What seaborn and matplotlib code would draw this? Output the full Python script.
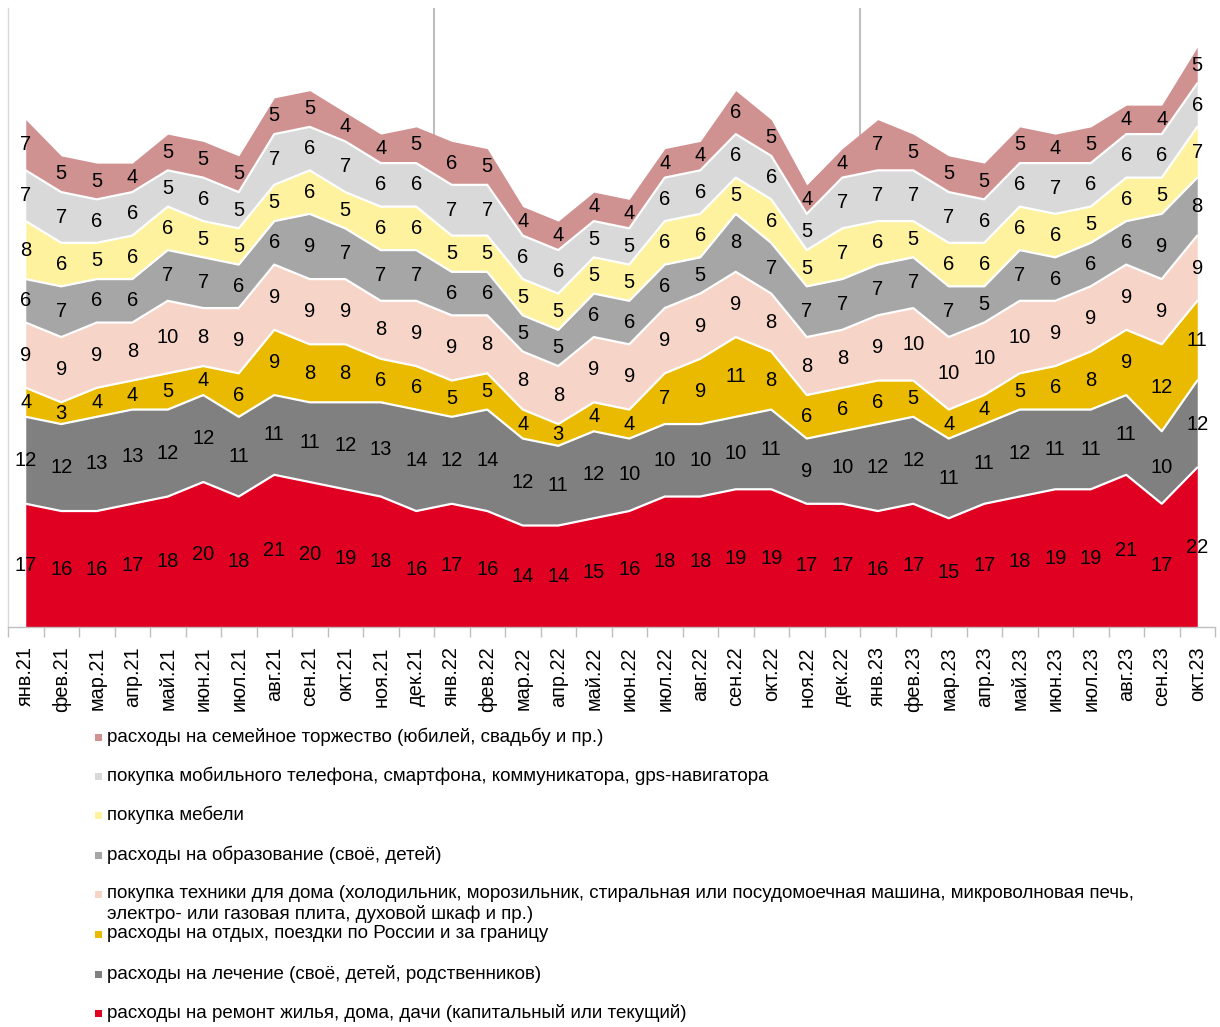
import numpy as np
import pandas as pd
import matplotlib
matplotlib.use("Agg")
import matplotlib.pyplot as plt
import seaborn as sns
from matplotlib.patches import Rectangle

months = ["янв.21", "фев.21", "мар.21", "апр.21", "май.21", "июн.21", "июл.21", "авг.21",
          "сен.21", "окт.21", "ноя.21", "дек.21", "янв.22", "фев.22", "мар.22", "апр.22",
          "май.22", "июн.22", "июл.22", "авг.22", "сен.22", "окт.22", "ноя.22", "дек.22",
          "янв.23", "фев.23", "мар.23", "апр.23", "май.23", "июн.23", "июл.23", "авг.23",
          "сен.23", "окт.23"]

remont = [17, 16, 16, 17, 18, 20, 18, 21, 20, 19, 18, 16, 17, 16, 14, 14, 15, 16, 18, 18, 19, 19,
          17, 17, 16, 17, 15, 17, 18, 19, 19, 21, 17, 22]
lechenie = [12, 12, 13, 13, 12, 12, 11, 11, 11, 12, 13, 14, 12, 14, 12, 11, 12, 10, 10, 10, 10, 11,
            9, 10, 12, 12, 11, 11, 12, 11, 11, 11, 10, 12]
otdyh = [4, 3, 4, 4, 5, 4, 6, 9, 8, 8, 6, 6, 5, 5, 4, 3, 4, 4, 7, 9, 11, 8,
         6, 6, 6, 5, 4, 4, 5, 6, 8, 9, 12, 11]
tehnika = [9, 9, 9, 8, 10, 8, 9, 9, 9, 9, 8, 9, 9, 8, 8, 8, 9, 9, 9, 9, 9, 8,
           8, 8, 9, 10, 10, 10, 10, 9, 9, 9, 9, 9]
obrazovanie = [6, 7, 6, 6, 7, 7, 6, 6, 9, 7, 7, 7, 6, 6, 5, 5, 6, 6, 6, 5, 8, 7,
               7, 7, 7, 7, 7, 5, 7, 6, 6, 6, 9, 8]
mebel = [8, 6, 5, 6, 6, 5, 5, 5, 6, 5, 6, 6, 5, 5, 5, 5, 5, 5, 6, 6, 5, 6,
         5, 7, 6, 5, 6, 6, 6, 6, 5, 6, 5, 7]
telefon = [7, 7, 6, 6, 5, 6, 5, 7, 6, 7, 6, 6, 7, 7, 6, 6, 5, 5, 6, 6, 6, 6,
           5, 7, 7, 7, 7, 6, 6, 7, 6, 6, 6, 6]
torzhestvo = [7, 5, 5, 4, 5, 5, 5, 5, 5, 4, 4, 5, 6, 5, 4, 4, 4, 4, 4, 4, 6, 5,
              4, 4, 7, 5, 5, 5, 5, 4, 5, 4, 4, 5]

series_names = [
    "расходы на ремонт жилья, дома, дачи (капитальный или текущий)",
    "расходы на лечение (своё, детей, родственников)",
    "расходы на отдых, поездки по России и за границу",
    "покупка техники для дома (холодильник, морозильник, стиральная или посудомоечная машина, микроволновая печь,\nэлектро- или газовая плита, духовой шкаф и пр.)",
    "расходы на образование (своё, детей)",
    "покупка мебели",
    "покупка мобильного телефона, смартфона, коммуникатора, gps-навигатора",
    "расходы на семейное торжество (юбилей, свадьбу и пр.)",
]
colors = ["#E00022", "#808080", "#E9BA00", "#F6D5C8", "#A6A6A6", "#FEF29E", "#D9D9D9", "#D09191"]

sns.set_theme(style="white")
plt.rcParams['font.family'] = ['Liberation Sans', 'DejaVu Sans']

W, H = 1220, 1027
fig = plt.figure(figsize=(W / 100, H / 100), dpi=100)
ax = fig.add_axes([8 / W, (H - 627) / H, (1215 - 8) / W, (627 - 8) / H])

x = np.arange(len(months))
data = np.array([remont, lechenie, otdyh, tehnika, obrazovanie, mebel, telefon, torzhestvo])

for xv in [11.5, 23.5]:
    ax.axvline(xv, color="#BFBFBF", lw=1.5, zorder=0)

ax.stackplot(x, data, colors=colors, linewidth=0, zorder=1)
cum = np.cumsum(data, axis=0)
for k in range(len(data) - 1):
    sns.lineplot(x=x, y=cum[k], color="white", lw=1.6, ax=ax, zorder=2, sort=False)

for k in range(len(data)):
    base = cum[k] - data[k]
    for i in x:
        ax.text(i, base[i] + data[k][i] / 2, str(data[k][i]), ha="center", va="center",
                fontsize=14.5, color="black", zorder=3)

ax.set_xlim(-0.5, 33.5)
ax.set_ylim(0, 85.4)
ax.set_yticks([])
ax.set_xticks(x)
ax.set_xticklabels(months, rotation=90, fontsize=14.3, color="black")
ax.set_xticks(np.arange(-0.5, 34, 1), minor=True)
ax.tick_params(axis="x", which="major", length=0, pad=14)
ax.tick_params(axis="x", which="minor", length=7, width=1, color="#BFBFBF", direction="out", bottom=True)
for s in ["top", "right"]:
    ax.spines[s].set_visible(False)
ax.spines["left"].set_color("#D9D9D9")
ax.spines["left"].set_linewidth(1)
ax.spines["bottom"].set_color("#BFBFBF")
ax.spines["bottom"].set_linewidth(1)

# legend (reverse order)
leg_y = [737, 776, 815, 855, 894, 934, 974, 1013]
for j, k in enumerate(range(len(data) - 1, -1, -1)):
    yc = leg_y[j]
    fig.add_artist(Rectangle(((95) / W, (H - yc - 3.5) / H), 7 / W, 7 / H,
                             transform=fig.transFigure, color=colors[k], lw=0))
    lines = series_names[k].split("\n")
    for li, line in enumerate(lines):
        fig.text(107 / W, (H - yc - 20 * li) / H, line, ha="left", va="center",
                 fontsize=13.5, color="black")

fig.savefig("out.png", dpi=100)
